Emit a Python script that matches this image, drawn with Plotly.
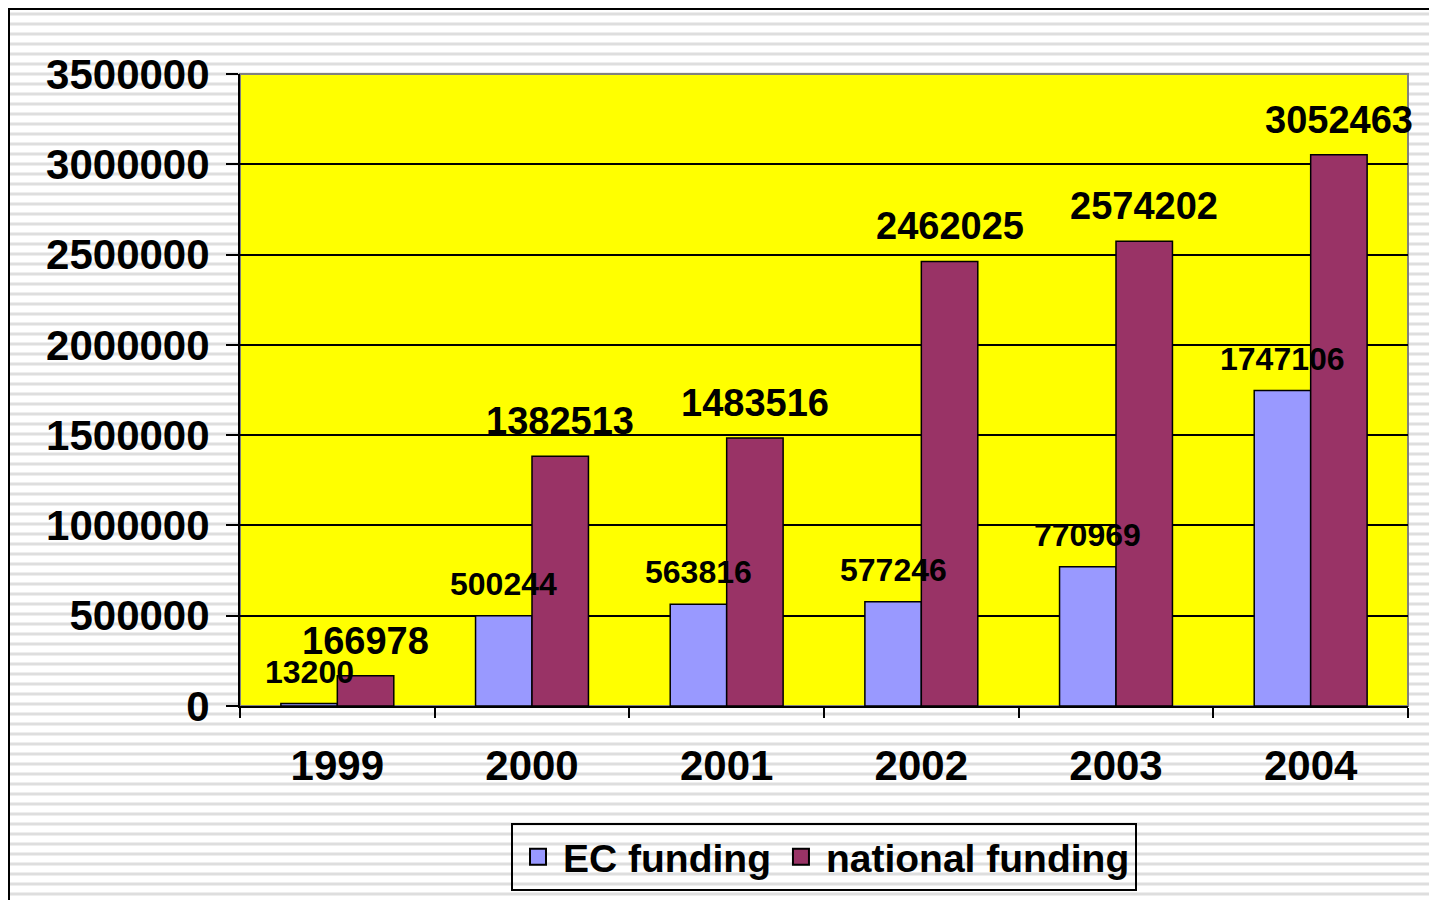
import plotly.graph_objects as go

years = ["1999", "2000", "2001", "2002", "2003", "2004"]
ec_funding = [13200, 500244, 563816, 577246, 770969, 1747106]
national_funding = [166978, 1382513, 1483516, 2462025, 2574202, 3052463]
y_ticks = [0, 500000, 1000000, 1500000, 2000000, 2500000, 3000000, 3500000]

# page is offset by 8px (body margin) -> work in figure coords
OFF = 8
W, H = 1437 - OFF, 900 - OFF
L, R, T, B = 240 - OFF, 1408 - OFF, 74 - OFF, 706 - OFF
pw, ph = R - L, B - T

def px_x(px):  # page px -> paper
    return (px - OFF - L) / pw

def px_y(py):
    return (B - (py - OFF)) / ph

FONT = "Liberation Sans, Arial, sans-serif"
EC_COLOR = "#9999FF"
NAT_COLOR = "#993366"

fig = go.Figure()
fig.add_trace(go.Bar(name="EC funding", x=years, y=ec_funding, showlegend=False,
                     marker=dict(color=EC_COLOR, line=dict(color="black", width=1.5))))
fig.add_trace(go.Bar(name="national funding", x=years, y=national_funding, showlegend=False,
                     marker=dict(color=NAT_COLOR, line=dict(color="black", width=1.5))))
# legend entries with larger square symbols
for name, col in [("EC funding", EC_COLOR), ("national funding", NAT_COLOR)]:
    fig.add_trace(go.Scatter(name=name, x=[None], y=[None], mode="markers",
                             marker=dict(symbol="square", size=22, color=col,
                                         line=dict(color="black", width=2))))

bargap = 0.42
bar_w_px = (1 - bargap) / 2 * pw / len(years)
off = bar_w_px / 2

annotations = []
for i, v in enumerate(ec_funding):
    annotations.append(dict(x=i, y=v, xref="x", yref="y", text=str(v), showarrow=False,
                            xshift=-off, yshift=12, yanchor="bottom", xanchor="center",
                            font=dict(family=FONT, size=32, color="black", weight="bold")))
for i, v in enumerate(national_funding):
    annotations.append(dict(x=i, y=v, xref="x", yref="y", text=str(v), showarrow=False,
                            xshift=off, yshift=12, yanchor="bottom", xanchor="center",
                            font=dict(family=FONT, size=38, color="black", weight="bold")))

shapes = []
# striped background
py = 4
while py < 900 + 10:
    shapes.append(dict(type="line", xref="paper", yref="paper",
                       x0=px_x(0), x1=px_x(1450), y0=px_y(py), y1=px_y(py),
                       line=dict(color="#dedede", width=3), layer="below"))
    py += 10
# outer frame
shapes.append(dict(type="rect", xref="paper", yref="paper",
                   x0=px_x(9), x1=px_x(1460), y0=px_y(9), y1=px_y(920),
                   line=dict(color="black", width=2), layer="below"))
# plot area
shapes.append(dict(type="rect", xref="paper", yref="paper",
                   x0=0, x1=1, y0=0, y1=1, fillcolor="#FFFF00",
                   line=dict(color="#808080", width=2), layer="below"))

fig.update_layout(
    width=W, height=H,
    margin=dict(l=L, r=W - R, t=T, b=H - B, autoexpand=False),
    paper_bgcolor="white",
    plot_bgcolor="#FFFF00",
    barmode="group", bargap=bargap, bargroupgap=0,
    shapes=shapes,
    annotations=annotations,
    font=dict(family=FONT, color="black", weight="bold"),
    showlegend=True,
    legend=dict(orientation="h", x=0.5, xanchor="center", y=px_y(823), yanchor="top",
                bgcolor="rgba(0,0,0,0)", bordercolor="black", borderwidth=2,
                font=dict(family=FONT, size=39, color="black", weight="bold"),
                itemsizing="trace", itemwidth=40, tracegroupgap=0),
)
fig.update_xaxes(type="category", range=[-0.5, len(years) - 0.5], tickangle=0,
                 showline=True, linecolor="black", linewidth=2,
                 ticks="outside", tickson="boundaries", ticklen=10, tickcolor="black", tickwidth=2,
                 tickfont=dict(family=FONT, size=42, color="black", weight="bold"),
                 ticklabelstandoff=22, showgrid=False)
fig.update_yaxes(range=[0, 3500000], tickvals=y_ticks, ticktext=[str(t) for t in y_ticks],
                 showline=True, linecolor="black", linewidth=2,
                 ticks="outside", ticklen=12, tickcolor="black", tickwidth=2,
                 tickfont=dict(family=FONT, size=42, color="black", weight="bold"),
                 ticklabelstandoff=8,
                 showgrid=True, gridcolor="black", gridwidth=1.5, zeroline=False)

fig.write_html("out.html")
